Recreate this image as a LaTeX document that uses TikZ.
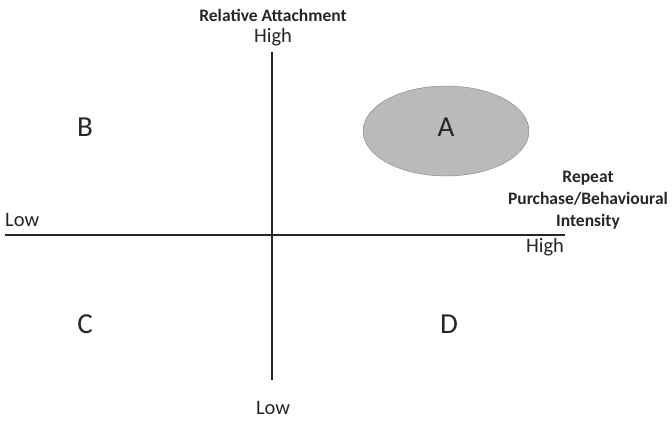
\documentclass[tikz,border=0pt]{standalone}
\usepackage{fontspec}
\setmainfont{Carlito}
\usepackage{tikz}
\usetikzlibrary{shapes.geometric}

\begin{document}
\begin{tikzpicture} [x=1pt, y=-1pt, every node/.style={text=black!85, inner sep=0pt},
axis/.style={line width=1.3pt, black!85},
quad/.style={font=\fontsize{29}{29}\selectfont},
ends/.style={font=\fontsize{20.5}{20.5}\selectfont},
title/.style={font=\bfseries\fontsize{17.5}{22}\selectfont, align=center}]
\useasboundingbox (0,0) rectangle (672,431);
% axes
\coordinate (top) at (272,52);
\coordinate (bottom) at (272,380);
\coordinate (left) at (5,235);
\coordinate (right) at (565,235);
\draw[axis] (top) -- (bottom);
\draw[axis] (left) -- (right);
% ellipse
\node[ellipse, draw=black!50, fill=black!27, minimum width=166pt, minimum height=90pt] (blob) at (446,131) {};
% labels
\node[title] (attach) at (273,15) {Relative Attachment};
\node[ends] (vhigh) at (273,37) {High};
\node[ends] (vlow) at (273,408) {Low};
\node[ends, anchor=west] (hlow) at (5,220) {Low};
\node[ends] (hhigh) at (545,247) {High};
\node[title] (repeat) at (588,200) {Repeat\\Purchase/Behavioural\\Intensity};
\node[quad] (A) at (446,127) {A};
\node[quad] (B) at (85,127) {B};
\node[quad] (C) at (85,324) {C};
\node[quad] (D) at (449,324) {D};
\end{tikzpicture}
\end{document}
